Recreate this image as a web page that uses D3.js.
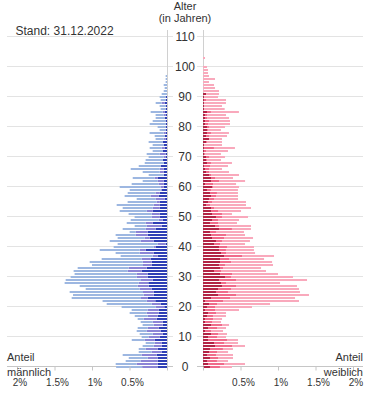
<!DOCTYPE html>
<html>
<head>
<meta charset="utf-8">
<script src="https://cdn.jsdelivr.net/npm/d3@7"></script>
<style>
  body { margin: 0; background: #fff; }
  svg { display: block; font-family: Arial, "Liberation Sans", sans-serif; }
</style>
</head>
<body>
<svg id="pyramid" width="375" height="416"></svg>
<script>
// ages 0..103, share of total population in %
const ages = d3.range(0, 104);

const maleDark = [
  .124,.124,.124,.124,.138,.071,.124,.071,.071,.164,
  .098,.058,.084,.111,.058,.058,.138,.124,.111,.111,
  .036,.084,.156,.258,.178,.178,.204,.244,.249,.191,
  .258,.258,.338,.271,.204,.204,.218,.124,.178,.284,
  .151,.018,.178,.231,.258,.258,.151,.071,.191,.058,
  .098,.098,.191,.098,.098,.098,.031,.111,.098,.071,
  .044,.044,.044,.124,.044,.044,.044,.084,.044,.058,
  .018,.018,.058,.031,.044,.058,.018,.031,.018,.018,
  .018,.018,.018,.031,.018,.031,.018,.018,.031,.018,
  .018,0,0,0,0,0,0,0,0,0,
  0,0,0,0
];
const maleMid = [
  .207,.28,.227,.133,.2,.133,.16,.107,.093,.133,
  .147,.133,.187,.147,.12,.133,.173,.133,.16,.147,
  .116,.12,.116,.089,.133,.142,.16,.147,.129,.156,
  .147,.147,.187,.24,.116,.12,.12,.067,.187,.08,
  .027,.107,.173,.067,.16,.16,.133,.2,.093,.053,
  .107,.107,.08,.093,.08,.04,.12,.107,.053,.013,
  .04,.067,.08,.04,0,.053,.053,0,0,0,
  .027,.08,0,.04,0,0,.027,0,.027,0,
  0,0,0,0,.027,.027,0,0,.04,0,
  0,0,0,0,0,0,0,0,0,0,
  0,0,0,0
];
const maleLight = [
  .347,.28,.2,.253,.253,.173,.093,.147,.12,.173,
  .093,.173,.133,.133,.147,.16,.08,.173,.227,.213,
  .453,.6,.587,.924,.942,.978,.72,.773,.987,1.004,
  .88,.827,.72,.68,.68,.707,.533,.427,.32,.533,
  .533,.533,.413,.36,.267,.08,.307,.16,.253,.373,
  .227,.307,.36,.4,.493,.387,.253,.347,.373,.413,
  .547,.36,.2,.293,.2,.227,.387,.293,.253,.227,
  .2,.173,.133,.16,.147,.187,.107,.133,.187,.08,
  .107,.213,.173,.12,.107,.16,.067,.08,.08,.067,
  .08,.071,.044,.031,.044,.018,.018,.018,0,0,
  0,0,0,0
];

const femaleDark = [
  .093,.067,.053,.093,.053,.08,.093,.16,.147,.067,
  .067,.107,.027,.067,.107,.027,.027,.053,.067,.027,
  .053,.08,.027,.107,.2,.173,.2,.253,.24,.213,
  .293,.227,.147,.227,.213,.227,.227,.28,.24,.213,
  .213,.147,.173,.12,.107,.093,.213,.16,.093,.12,
  .173,.12,.107,.107,.04,.067,.08,.107,.093,.053,
  .12,.027,.107,.107,.08,.04,.027,.013,.053,.04,
  .04,.013,.013,.013,.013,.04,.08,.04,.053,.053,
  .053,.027,.027,.027,.027,.053,.013,.013,.013,.013,
  .013,.04,0,0,0,0,0,0,0,0,
  0,0,0,0
];
const femaleMid = [
  .133,.213,.133,.107,.12,.107,.173,.227,.133,.253,
  .12,.093,.08,.12,.147,.093,.107,.08,.107,.133,
  .107,.107,.24,.253,.24,.16,.173,.187,.067,.227,
  .08,.16,.093,.04,.08,.147,.12,.24,.067,.093,
  .107,.08,.08,.16,.2,.08,.173,.053,.107,.08,
  .08,.133,.093,.04,.053,.053,.067,.067,.093,.053,
  .013,.107,.107,.053,.027,.04,.053,.08,.053,.013,
  .04,.013,.027,.133,0,.013,0,.04,.053,.013,
  .027,.04,.053,.027,.027,.053,0,0,0,.027,
  0,0,0,0,0,0,0,0,0,0,
  0,0,0,0
];
const femaleLight = [
  .16,.28,.147,.2,.227,.147,.133,.173,.187,.147,
  .12,.12,.16,.12,.093,.12,.12,.173,.133,.32,
  .493,.707,1.013,.867,.973,.96,.907,.813,.72,.947,
  .827,.613,.6,.507,.64,.547,.467,.427,.387,.373,
  .36,.333,.373,.387,.253,.373,.253,.427,.253,.28,
  .347,.133,.307,.493,.48,.453,.32,.293,.28,.36,
  .347,.307,.347,.24,.373,.267,.173,.24,.28,.187,
  .213,.213,.293,.28,.24,.2,.173,.24,.24,.173,
  .213,.293,.28,.293,.253,.373,.276,.24,.293,.267,
  .187,.173,.213,.16,.147,.08,.16,.08,.067,.067,
  .053,0,0,.027
];

const ageTicks = [0, 10, 20, 30, 40, 50, 60, 70, 80, 90, 100, 110];
const shareTicks = [0, 0.5, 1, 1.5, 2];

const maleColors = ["#2f3fb5", "#8b84d6", "#9db7e1"];
const femaleColors = ["#b22445", "#f06b8b", "#f9a9bc"];

const svg = d3.select("#pyramid");

const y = d3.scaleLinear().domain([0, 112]).range([366, 30]);
const xLeft = d3.scaleLinear().domain([0, 2]).range([167, 17]);
const xRight = d3.scaleLinear().domain([0, 2]).range([203, 353]);

// gridlines (they run a few px past each axis line, like tick marks)
const grid = svg.append("g");
ageTicks.forEach(a => {
    grid.append("line")
        .attr("x1", 7).attr("x2", 173)
        .attr("y1", y(a) + 0.5).attr("y2", y(a) + 0.5)
        .attr("stroke", a === 0 ? "#c6c6c6" : "#e3e3e3");
    grid.append("line")
        .attr("x1", 197).attr("x2", 363)
        .attr("y1", y(a) + 0.5).attr("y2", y(a) + 0.5)
        .attr("stroke", a === 0 ? "#c6c6c6" : "#e3e3e3");
});

// vertical zero lines
[xLeft(0), xRight(0)].forEach(x0 => {
    svg.append("line")
        .attr("x1", x0 + 0.5).attr("x2", x0 + 0.5)
        .attr("y1", 30).attr("y2", y(0))
        .attr("stroke", "#d0d0d0");
});

// --- BARS ---
const stack = d3.stack().keys(["dark", "mid", "light"]);

function drawSide(dark, mid, light, x, colors) {
    const rows = ages.map((a, i) => ({ age: a, dark: dark[i], mid: mid[i], light: light[i] }));
    svg.append("g")
        .selectAll("g")
        .data(stack(rows))
        .join("g")
        .attr("fill", (d, i) => colors[i])
        .selectAll("rect")
        .data(d => d.filter(s => s[1] > s[0]))
        .join("rect")
        .attr("x", d => Math.min(x(d[0]), x(d[1])))
        .attr("y", d => y(d.data.age))
        .attr("width", d => Math.abs(x(d[1]) - x(d[0])))
        .attr("height", 2);
}

drawSide(maleDark, maleMid, maleLight, xLeft, maleColors);
drawSide(femaleDark, femaleMid, femaleLight, xRight, femaleColors);

// --- AXES ---
function shareAxis(x) {
    const g = svg.append("g")
        .attr("transform", `translate(0, ${y(0) + 0.5})`)
        .call(d3.axisBottom(x)
            .tickValues(shareTicks)
            .tickSize(4)
            .tickPadding(8)
            .tickFormat(d => d ? d + "%" : ""));
    g.select(".domain").remove();
    g.selectAll("line").attr("stroke", "#c6c6c6");
    g.selectAll("text")
        .attr("dx", 2.5)
        .attr("fill", "#333")
        .style("font-size", "10px");
}
shareAxis(xLeft);
shareAxis(xRight);

// age labels in the middle
svg.append("g")
    .selectAll("text")
    .data(ageTicks)
    .join("text")
    .attr("x", 185)
    .attr("y", d => y(d) + 0.5)
    .attr("dy", "0.35em")
    .attr("text-anchor", "middle")
    .attr("fill", "#333")
    .style("font-size", "12px")
    .text(d => d);

// --- TEXTS ---
svg.append("text").attr("x", 185).attr("y", 10)
    .attr("text-anchor", "middle").attr("fill", "#333")
    .style("font-size", "11px").text("Alter");
svg.append("text").attr("x", 185).attr("y", 22)
    .attr("text-anchor", "middle").attr("fill", "#333")
    .style("font-size", "11px").text("(in Jahren)");

svg.append("text").attr("x", 15.5).attr("y", 35)
    .attr("fill", "#333").style("font-size", "12px")
    .text("Stand: 31.12.2022");

svg.append("text").attr("x", 7).attr("y", 361)
    .attr("fill", "#333").style("font-size", "11px").text("Anteil");
svg.append("text").attr("x", 7).attr("y", 376)
    .attr("fill", "#333").style("font-size", "11px").text("männlich");
svg.append("text").attr("x", 363).attr("y", 361)
    .attr("text-anchor", "end")
    .attr("fill", "#333").style("font-size", "11px").text("Anteil");
svg.append("text").attr("x", 363).attr("y", 376)
    .attr("text-anchor", "end")
    .attr("fill", "#333").style("font-size", "11px").text("weiblich");
</script>
</body>
</html>
